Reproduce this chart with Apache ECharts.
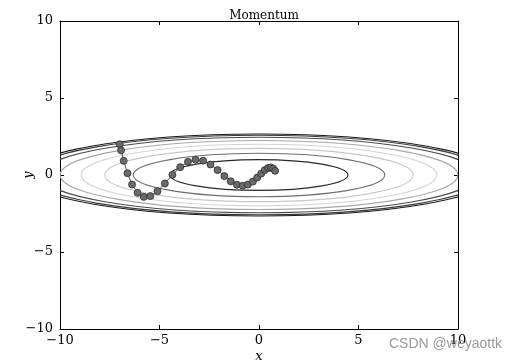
<!DOCTYPE html>
<html>
<head>
<meta charset="utf-8">
<script src="https://cdn.jsdelivr.net/npm/echarts@6/dist/echarts.min.js"></script>
<style>html,body{margin:0;padding:0;background:#fff}#c{width:509px;height:362px}</style>
</head>
<body>
<div id="c"></div>
<script>
// Optimizer path (x, y)
const pathX = [-7.00, -6.93, -6.80, -6.61, -6.38, -6.10, -5.79, -5.46, -5.10, -4.73, -4.35, -3.96, -3.57, -3.19, -2.81, -2.44, -2.08, -1.74, -1.42, -1.11, -0.82, -0.56, -0.31, -0.09, 0.11, 0.29, 0.45, 0.59, 0.71, 0.81];
const pathY = [2.00, 1.60, 0.92, 0.12, -0.62, -1.16, -1.42, -1.37, -1.05, -0.55, 0.01, 0.51, 0.86, 1.00, 0.93, 0.68, 0.32, -0.07, -0.41, -0.63, -0.70, -0.62, -0.43, -0.17, 0.09, 0.32, 0.45, 0.49, 0.42, 0.27];
// Contour ellipses: semi-axes in data units (x and y)
const contourSemiX = [4.47, 6.32, 7.75, 8.94, 10.0, 10.95, 11.55, 11.83];
const contourSemiY = [1.00, 1.41, 1.73, 2.00, 2.24, 2.45, 2.58, 2.66];
const ticks = [-10, -5, 0, 5, 10];

const contourColors = ['#2a2a2a', '#6e6e6e', '#c8c8c8', '#d4d4d4', '#a8a8a8', '#4a4a4a', '#3a3a3a', '#1a1a1a'];

const fmt = v => (v < 0 ? '\u2212' + Math.abs(v) : String(v));
const serif = '"DejaVu Serif", "Liberation Serif", serif';

const contourData = contourSemiX.map((a, i) => [a, contourSemiY[i], i]);
const pathData = pathX.map((x, i) => [x, pathY[i]]);

const axisCommon = {
  type: 'value', min: ticks[0], max: ticks[ticks.length - 1], interval: 5,
  axisLine: { show: true, onZero: false, lineStyle: { color: '#000', width: 1 } },
  axisTick: { show: true, inside: true, length: 4, lineStyle: { color: '#000' } },
  splitLine: { show: false }
};

const chart = echarts.init(document.getElementById('c'));
chart.setOption({
  animation: false,
  backgroundColor: '#fff',
  title: {
    text: 'Momentum', left: 259, textAlign: 'center', top: 5,
    textStyle: { fontFamily: serif, fontSize: 12, fontWeight: 'normal', color: '#000' }
  },
  grid: { left: 60, right: 51, top: 21, bottom: 33, containLabel: false, outerBoundsMode: 'none' },
  xAxis: [
    Object.assign({}, axisCommon, {
      position: 'bottom',
      name: 'x', nameLocation: 'middle', nameGap: 21, nameMoveOverlap: false,
      nameTextStyle: { fontFamily: serif, fontStyle: 'italic', fontSize: 13, color: '#000' },
      axisLabel: { formatter: fmt, fontFamily: serif, fontSize: 13, color: '#000', margin: 5 }
    }),
    Object.assign({}, axisCommon, { position: 'top', axisLabel: { show: false } })
  ],
  yAxis: [
    Object.assign({}, axisCommon, {
      position: 'left',
      name: 'y', nameLocation: 'middle', nameGap: 25, nameRotate: 90, nameMoveOverlap: false,
      nameTextStyle: { fontFamily: serif, fontStyle: 'italic', fontSize: 13, color: '#000' },
      axisLabel: { formatter: fmt, fontFamily: serif, fontSize: 13, color: '#000', margin: 7 }
    }),
    Object.assign({}, axisCommon, { position: 'right', axisLabel: { show: false } })
  ],
  graphic: [{
    type: 'text', left: 389, top: 337,
    style: { text: 'CSDN @weyaottk', fontFamily: '"Liberation Sans", Arial, sans-serif', fontSize: 14, fill: '#9a9a9a' },
    z: 100
  }],
  series: [
    {
      type: 'custom', xAxisIndex: 0, yAxisIndex: 0, clip: true, z: 1, silent: true,
      data: contourData,
      renderItem: function (params, api) {
        const c = api.coord([0, 0]);
        const s = api.size([api.value(0), api.value(1)]);
        const idx = api.value(2);
        return {
          type: 'ellipse',
          shape: { cx: c[0], cy: c[1], rx: s[0], ry: s[1] },
          style: { fill: null, stroke: contourColors[idx], lineWidth: 1.1 }
        };
      }
    },
    {
      type: 'line', xAxisIndex: 0, yAxisIndex: 0, z: 5,
      data: pathData,
      symbol: 'circle', symbolSize: 7, showSymbol: true,
      lineStyle: { color: '#555', width: 1 },
      itemStyle: { color: '#6a6a6a', borderColor: '#2e2e2e', borderWidth: 0.8 }
    }
  ]
});
</script>
</body>
</html>
